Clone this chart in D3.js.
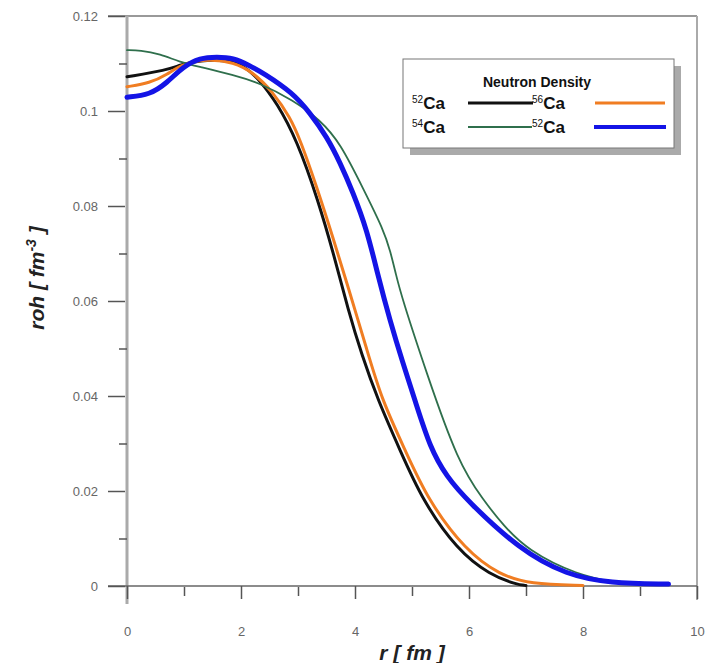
<!DOCTYPE html>
<html><head><meta charset="utf-8">
<script src="https://cdn.jsdelivr.net/npm/d3@7"></script>
<style>body{margin:0;background:#fff}svg{display:block}</style>
</head><body>
<svg id="c" width="706" height="663"></svg>
<script>
// ---- data (r in fm, density in fm^-3) ----
const ca52_r   = [0,0.70,0.93,1.28,1.75,2.04,2.33,2.63,2.98,3.35,3.63,3.88,4.12,4.40,4.79,5.18,5.79,6.37,6.84,7.0];
const ca52_rho = [0.1072,0.1086,0.1097,0.1107,0.1107,0.1097,0.1065,0.1017,0.0939,0.0813,0.0697,0.0581,0.0486,0.0392,0.0286,0.0181,0.0076,0.0023,0.0003,0.0001];
const ca56_r   = [0,0.40,0.70,0.98,1.46,1.86,2.21,2.56,2.86,3.04,3.33,3.61,3.88,4.21,4.47,4.88,5.28,5.93,6.54,7.07,8.0];
const ca56_rho = [0.1051,0.1059,0.1076,0.1101,0.1109,0.1103,0.1082,0.1040,0.0987,0.0939,0.0840,0.0735,0.0629,0.0497,0.0392,0.0286,0.0181,0.0076,0.0023,0.0004,0.0001];
const ca54_r   = [0,0.23,0.58,0.93,1.28,1.86,2.33,2.91,3.39,3.74,4.15,4.50,4.62,4.72,4.82,5.25,5.81,6.25,6.60,7.02,7.89,8.65];
const ca54_rho = [0.1128,0.1128,0.1120,0.1103,0.1093,0.1076,0.1059,0.1023,0.0981,0.0933,0.0835,0.0750,0.0705,0.0655,0.0608,0.0450,0.0259,0.0181,0.0128,0.0076,0.0023,0.0006];
const ca52b_r   = [0,0.40,0.70,0.98,1.28,1.58,1.86,2.16,2.39,2.91,3.21,3.51,3.74,3.96,4.21,4.40,4.61,4.84,5.05,5.32,5.61,5.96,6.89,7.72,8.47,9.5];
const ca52b_rho = [0.1029,0.1034,0.1059,0.1093,0.1112,0.1114,0.1112,0.1095,0.1080,0.1038,0.0996,0.0945,0.0891,0.0830,0.0750,0.0655,0.0560,0.0469,0.0392,0.0290,0.0230,0.0181,0.0076,0.0023,0.0006,0.0004];

const xTicks = [0,2,4,6,8,10];
const xMinor = [1,3,5,7,9];
const yTicks = [0,0.02,0.04,0.06,0.08,0.1,0.12];
const yTickLabels = ["0","0.02","0.04","0.06","0.08","0.1","0.12"];
const yMinor = [0.01,0.03,0.05,0.07,0.09,0.11];

const series = [
  {mass:"52", r:ca52_r,  v:ca52_rho,  color:"#111111", w:3},
  {mass:"56", r:ca56_r,  v:ca56_rho,  color:"#f07d22", w:3},
  {mass:"54", r:ca54_r,  v:ca54_rho,  color:"#2f6f4c", w:1.8},
  {mass:"52", r:ca52b_r, v:ca52b_rho, color:"#1414e6", w:5}
];

// ---- chart ----
const svg = d3.select("#c");
const x = d3.scaleLinear().domain([0,10]).range([127,697]);
const y = d3.scaleLinear().domain([0,0.12]).range([586,16]);
const F = "'Liberation Sans', Arial, sans-serif";

// frame
svg.append("line").attr("x1",108).attr("x2",697).attr("y1",16).attr("y2",16).attr("stroke","#777").attr("stroke-width",1.5);
svg.append("line").attr("x1",697).attr("x2",697).attr("y1",16).attr("y2",600).attr("stroke","#aaa").attr("stroke-width",2);
svg.append("line").attr("x1",127).attr("x2",127).attr("y1",16).attr("y2",604).attr("stroke","#aaa").attr("stroke-width",3);
svg.append("line").attr("x1",108).attr("x2",697).attr("y1",586).attr("y2",586).attr("stroke","#666").attr("stroke-width",1.5);

// y axis
const yAx = svg.append("g").attr("transform","translate(125,0)")
  .call(d3.axisLeft(y).tickValues(yTicks).tickSize(17).tickPadding(10)
        .tickFormat((d,i)=>yTickLabels[i]));
yAx.select(".domain").remove();
yAx.selectAll(".tick line").attr("stroke","#555").attr("stroke-width",1.5);
yAx.selectAll("text").attr("font-family",F).attr("font-size",13).attr("fill","#666");
const yMi = svg.append("g").attr("transform","translate(127,0)")
  .call(d3.axisLeft(y).tickValues(yMinor).tickSize(8).tickFormat(""));
yMi.select(".domain").remove();
yMi.selectAll(".tick line").attr("stroke","#555").attr("stroke-width",1.5);

// x axis
const xAx = svg.append("g").attr("transform","translate(0,586)")
  .call(d3.axisBottom(x).tickValues(xTicks).tickSize(13).tickPadding(28).tickFormat(d3.format("d")));
xAx.select(".domain").remove();
xAx.selectAll(".tick line").attr("stroke","#555").attr("stroke-width",1.5);
xAx.selectAll("text").attr("font-family",F).attr("font-size",13).attr("fill","#666");
const xMi = svg.append("g").attr("transform","translate(0,587)")
  .call(d3.axisBottom(x).tickValues(xMinor).tickSize(9).tickFormat(""));
xMi.select(".domain").remove();
xMi.selectAll(".tick line").attr("stroke","#555").attr("stroke-width",1.5);

// axis titles
svg.append("text").attr("x",412).attr("y",660).attr("text-anchor","middle")
  .attr("font-family",F).attr("font-size",21).attr("font-weight","bold").attr("font-style","italic")
  .attr("fill","#222").text("r [ fm ]");
const yt = svg.append("text").attr("transform","translate(44,278) rotate(-90)").attr("text-anchor","middle")
  .attr("font-family",F).attr("font-size",21).attr("font-weight","bold").attr("font-style","italic").attr("fill","#222");
yt.append("tspan").text("roh [ fm");
yt.append("tspan").attr("dy",-8).attr("font-size",14).text("-3");
yt.append("tspan").attr("dy",8).text(" ]");

// lines
const line = d3.line().curve(d3.curveBasis);
const g = svg.append("g");
series.forEach(s=>{
  const pts = s.r.map((r,i)=>[x(r), y(s.v[i])]);
  g.append("path").attr("d",line(pts)).attr("fill","none")
   .attr("stroke",s.color).attr("stroke-width",s.w).attr("stroke-linejoin","round").attr("stroke-linecap","round");
});

// legend
const L = svg.append("g");
L.append("rect").attr("x",410).attr("y",66).attr("width",271).attr("height",89).attr("fill","#aaa");
L.append("rect").attr("x",403).attr("y",59).attr("width",271).attr("height",89).attr("fill","#fff").attr("stroke","#777").attr("stroke-width",1);
L.append("text").attr("x",537).attr("y",87).attr("text-anchor","middle").attr("font-family",F)
  .attr("font-size",14).attr("font-weight","bold").attr("fill","#111").text("Neutron Density");
const pos = [{tx:412,y:109,lx1:468,lx2:533},{tx:532,y:109,lx1:595,lx2:665},{tx:412,y:133,lx1:468,lx2:532},{tx:532,y:133,lx1:594,lx2:666}];
series.forEach((s,i)=>{
  const p = pos[i];
  const t = L.append("text").attr("x",p.tx).attr("y",p.y).attr("font-family",F).attr("fill","#111");
  t.append("tspan").attr("font-size",10).attr("dy",-6).text(s.mass);
  t.append("tspan").attr("font-size",17).attr("font-weight","bold").attr("dy",6).text("Ca");
  L.append("line").attr("x1",p.lx1).attr("x2",p.lx2).attr("y1",p.y-6).attr("y2",p.y-6)
   .attr("stroke",s.color).attr("stroke-width",Math.min(s.w,4));
});
</script>
</body></html>
